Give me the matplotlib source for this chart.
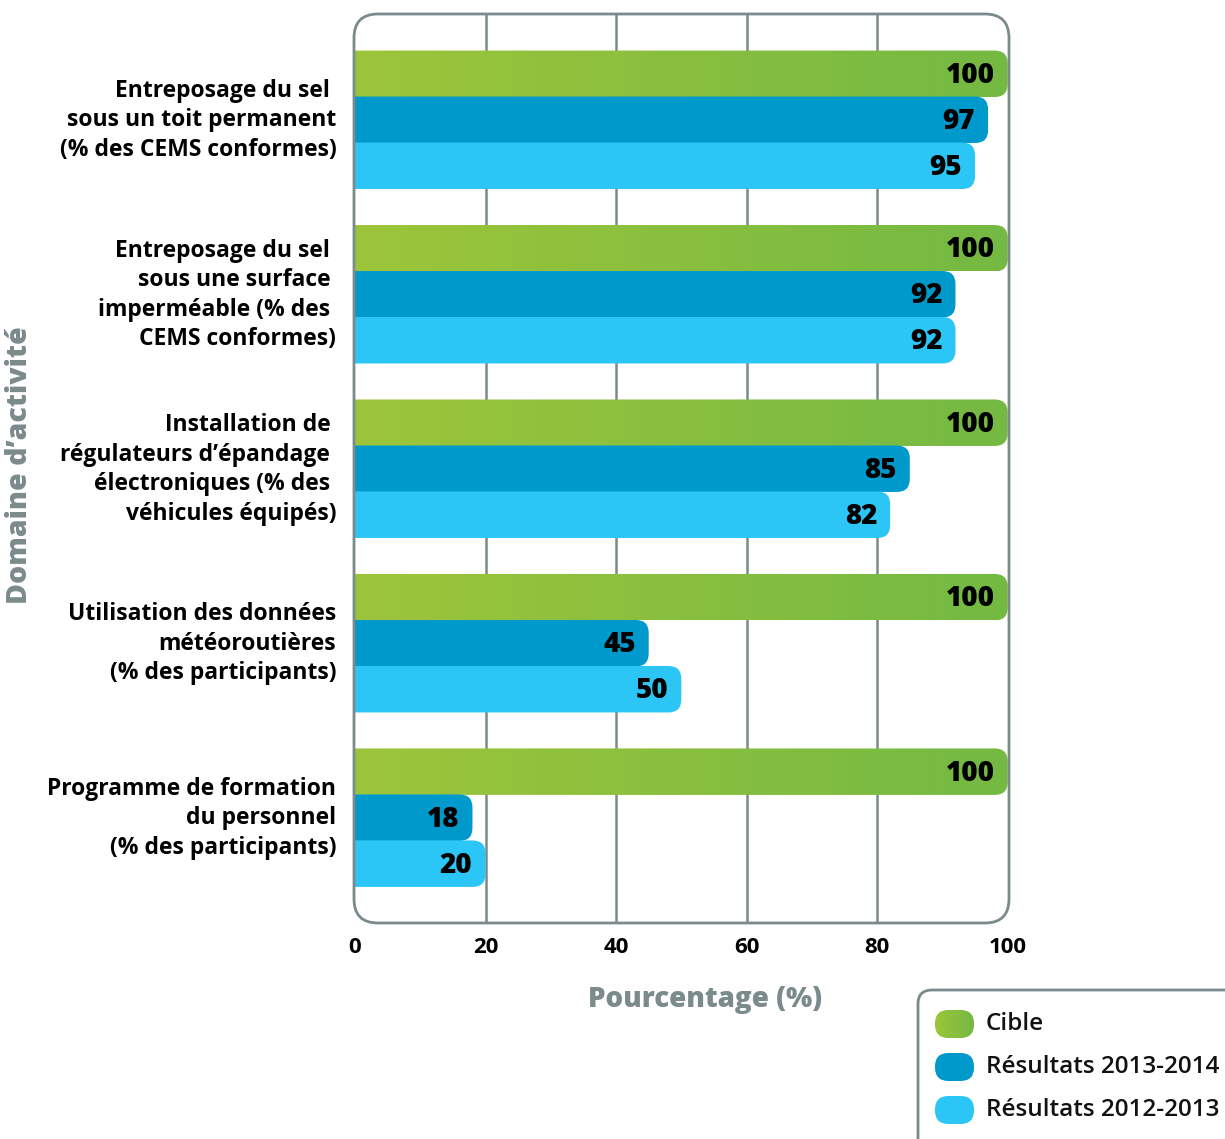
import numpy as np
import matplotlib
matplotlib.use("Agg")
import matplotlib.pyplot as plt
from matplotlib.patches import FancyBboxPatch
from matplotlib.colors import LinearSegmentedColormap

# ---------------- data ----------------
categories = [
    "Entreposage du sel \nsous un toit permanent\n(% des CEMS conformes)",
    "Entreposage du sel \nsous une surface \nimperméable (% des \nCEMS conformes)",
    "Installation de \nrégulateurs d’épandage \nélectroniques (% des \nvéhicules équipés)",
    "Utilisation des données\nmétéoroutières\n(% des participants)",
    "Programme de formation\ndu personnel\n(% des participants)",
]
cible = [100, 100, 100, 100, 100]
res_2013_2014 = [97, 92, 85, 45, 18]
res_2012_2013 = [95, 92, 82, 50, 20]
xticks = [0, 20, 40, 60, 80, 100]
series_labels = ["Cible", "Résultats 2013-2014", "Résultats 2012-2013"]
xlabel = "Pourcentage (%)"
ylabel = "Domaine d’activité"

# ---------------- style ----------------
GREEN_L, GREEN_R = "#9dc53a", "#74b943"
BLUE = "#0099cc"
LIGHT = "#2bc6f5"
GRAY = "#7b8a8b"
FONT = "Open Sans"

green_cmap = LinearSegmentedColormap.from_list("g", [GREEN_L, GREEN_R])

W, H = 1225, 1139
fig = plt.figure(figsize=(W / 100, H / 100), dpi=100)
ax_l, ax_r, ax_t, ax_b = 354, 1009, 14, 923
ax = fig.add_axes([ax_l / W, 1 - ax_b / H, (ax_r - ax_l) / W, (ax_b - ax_t) / H])

xlim = (-0.15, 100.2)
ylim = (len(categories) - 1 + 0.605, -0.605)

px_x = (ax_r - ax_l) / (xlim[1] - xlim[0])
px_y = (ax_b - ax_t) / (ylim[0] - ylim[1])
m_aspect = px_x / px_y
r_px = 13
r = r_px / px_x

bh = 46 / px_y  # bar height in data units
series = [cible, res_2013_2014, res_2012_2013]
colors = [None, BLUE, LIGHT]
offsets = [-bh, 0, bh]

for s_idx, (vals, col, off) in enumerate(zip(series, colors, offsets)):
    for i, v in enumerate(vals):
        y0 = i + off - bh / 2
        patch = FancyBboxPatch((-3 * r, y0), v + 3 * r, bh * 1.01,
                               boxstyle=f"round,pad=0,rounding_size={r}",
                               mutation_aspect=m_aspect,
                               facecolor=col if col else "none",
                               edgecolor="none", zorder=3)
        ax.add_patch(patch)
        if col is None:
            im = ax.imshow(np.linspace(0, 1, 256).reshape(1, -1), cmap=green_cmap,
                           extent=[0, v, y0 + bh * 1.01, y0], aspect="auto",
                           zorder=3, interpolation="bilinear")
            im.set_clip_path(patch)
        ax.text(v - 2.0, i + off + 0.01, f"{v}", ha="right", va="center",
                fontsize=20, fontweight="heavy", family=FONT, color="black", zorder=5)

ax.set_xlim(*xlim)
ax.set_ylim(*ylim)

# grid lines
for t in xticks[1:-1]:
    ax.axvline(t, color=GRAY, lw=1.8, zorder=1)

# rounded frame
for s in ax.spines.values():
    s.set_visible(False)
aw, ah = ax_r - ax_l, ax_b - ax_t
fr = 24 / aw
frame = FancyBboxPatch((0, 0), 1, 1, boxstyle=f"round,pad=0,rounding_size={fr}",
                       mutation_aspect=aw / ah, transform=ax.transAxes,
                       facecolor="none", edgecolor=GRAY, lw=2.0, zorder=6, clip_on=False)
ax.add_patch(frame)
ax.patch.set_visible(False)

# ticks
ax.set_xticks(xticks)
ax.set_xticklabels([str(t) for t in xticks], fontsize=16, fontweight="bold", family=FONT)
ax.tick_params(axis="x", length=0, pad=10)
ax.set_yticks([])

# category labels
for i, c in enumerate(categories):
    ax.text(-0.027, i + 0.005, c, transform=ax.get_yaxis_transform(), ha="right", va="center",
            multialignment="right", fontsize=16.5, fontweight="bold", family=FONT,
            linespacing=1.31)

# axis titles
fig.text(705 / W, 1 - 1000 / H, xlabel, ha="center", va="center", fontsize=20,
         fontweight="heavy", family=FONT, color=GRAY)
fig.text(20 / W, 1 - 465 / H, ylabel, ha="center", va="center", rotation=90,
         fontsize=20.5, fontweight="heavy", family=FONT, color=GRAY)

# legend (overlay axes in pixel coordinates)
ov = fig.add_axes([0, 0, 1, 1], zorder=10)
ov.axis("off")
ov.patch.set_visible(False)
leg_box = FancyBboxPatch((918, 990), 340, 200, boxstyle="round,pad=0,rounding_size=14",
                         facecolor="white", edgecolor=GRAY, lw=2.0, clip_on=False, zorder=1)
ov.add_patch(leg_box)
leg_y = [1024, 1067, 1110]
for lab, col, yy in zip(series_labels, [None, BLUE, LIGHT], leg_y):
    pill = FancyBboxPatch((935, yy - 14), 39, 28, boxstyle="round,pad=0,rounding_size=13.5",
                          facecolor=col if col else "none", edgecolor="none", zorder=3)
    ov.add_patch(pill)
    if col is None:
        im = ov.imshow(np.linspace(0, 1, 64).reshape(1, -1), cmap=green_cmap,
                       extent=[935, 974, yy + 14, yy - 14], aspect="auto",
                       interpolation="bilinear", zorder=3)
        im.set_clip_path(pill)
    ov.text(986, yy, lab, ha="left", va="center", fontsize=17.5, fontweight="semibold",
            family=FONT, color="#111111", zorder=4)
ov.set_xlim(0, W)
ov.set_ylim(H, 0)

fig.savefig("out.png", dpi=100)
